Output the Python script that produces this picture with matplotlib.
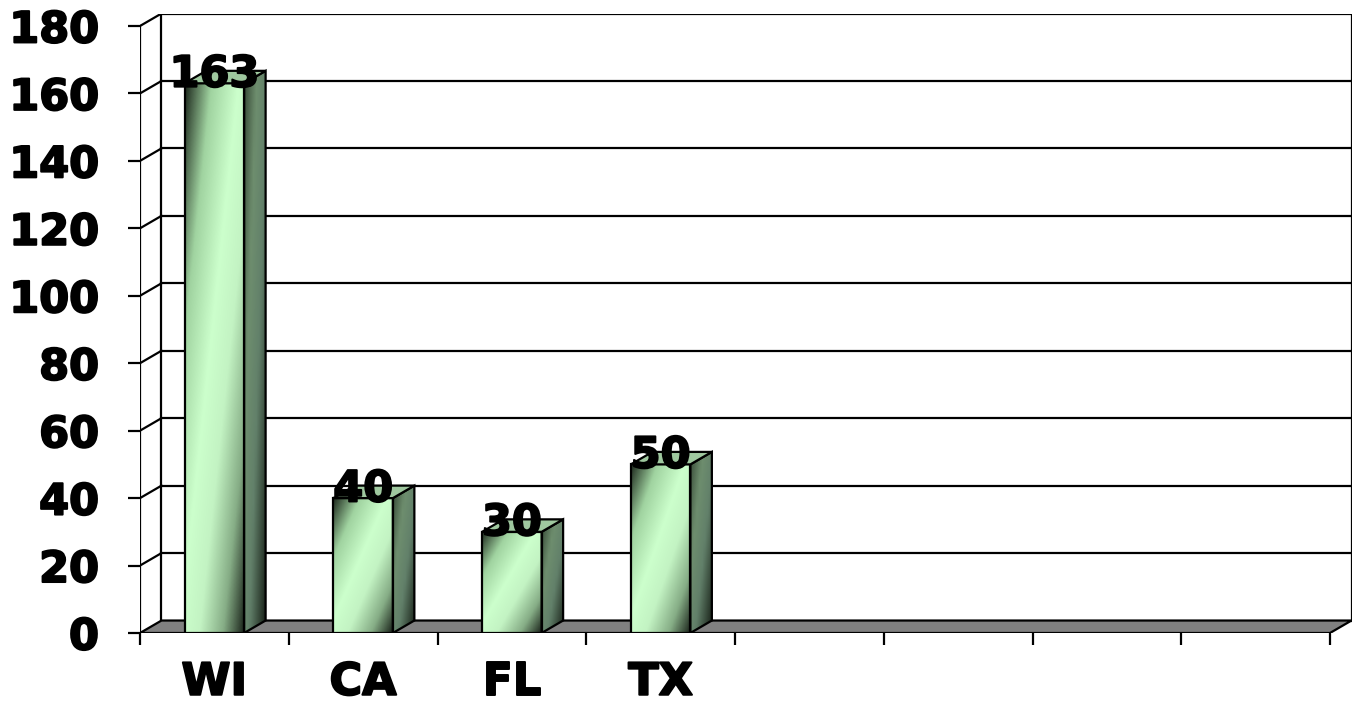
import numpy as np
import matplotlib.pyplot as plt
import matplotlib.patheffects as pe
from matplotlib.patches import Polygon
from matplotlib.colors import LinearSegmentedColormap

states = ['WI', 'CA', 'FL', 'TX']
counts = [163, 40, 30, 50]
n_slots = 8
y_ticks = list(range(0, 181, 20))

plt.rcParams['font.family'] = 'DejaVu Sans'
plt.rcParams['font.weight'] = 'bold'

# depth of the 3-D box in data units (x: categories, y: values)
DX, DY = 0.1445, 3.7
BAR_W = 0.40
LW = 1.6
heavy = [pe.withStroke(linewidth=1.4, foreground='black')]

front_cmap = LinearSegmentedColormap.from_list('front', [
    (0.0, '#1f2b1f'), (0.22, '#a0d3a0'), (0.45, '#ccffcc'),
    (0.62, '#c3f3c3'), (0.82, '#86ad86'), (1.0, '#1a231a')])
side_cmap = LinearSegmentedColormap.from_list('side', [
    (0.0, '#3a4e3a'), (0.3, '#6e8e6e'), (0.6, '#62806a'), (1.0, '#1c261c')])


def gradient(cmap, nx=48, ny=256):
    u = np.linspace(0, 1, nx)[None, :]
    v = np.linspace(0, 1, ny)[:, None]
    return cmap((u + v) / 2)


fig = plt.figure(figsize=(13.59, 7.03), dpi=100)
W, H = 1359, 703
ax = fig.add_axes([140 / W, 70 / H, (1351.5 - 140) / W, (633 - 13.5) / H])
for s in ax.spines.values():
    s.set_visible(False)

top = y_ticks[-1]
# back wall gridlines and side wall diagonals
for y in y_ticks[1:]:
    ax.plot([DX, n_slots + DX], [y + DY, y + DY], color='k', lw=LW, zorder=1)
    ax.plot([0, DX], [y, y + DY], color='k', lw=LW, zorder=1)
ax.plot([0, 0], [0, top], color='k', lw=LW, zorder=1)
ax.plot([DX, DX], [DY, top + DY], color='k', lw=LW, zorder=1)
ax.plot([n_slots + DX] * 2, [DY, top + DY], color='k', lw=LW, zorder=1)

# floor
floor = Polygon([(0, 0), (n_slots, 0), (n_slots + DX, DY), (DX, DY)],
                closed=True, facecolor='#808080', edgecolor='k', lw=LW, zorder=2)
ax.add_patch(floor)

# 3-D bars
for i, v in enumerate(counts):
    x0 = i + 0.5 - BAR_W / 2
    x1 = x0 + BAR_W
    ax.imshow(gradient(front_cmap), extent=(x0, x1, 0, v), origin='upper',
              aspect='auto', interpolation='bilinear', zorder=3)
    ax.add_patch(Polygon([(x0, 0), (x1, 0), (x1, v), (x0, v)], closed=True,
                         fill=False, edgecolor='k', lw=LW, zorder=4))

    side = Polygon([(x1, 0), (x1 + DX, DY), (x1 + DX, v + DY), (x1, v)],
                   closed=True, fill=False, edgecolor='k', lw=LW, zorder=4)
    im = ax.imshow(gradient(side_cmap, nx=8), extent=(x1, x1 + DX, 0, v + DY),
                   origin='upper', aspect='auto', interpolation='bilinear', zorder=3)
    ax.add_patch(side)
    im.set_clip_path(side)

    ax.add_patch(Polygon([(x0, v), (x1, v), (x1 + DX, v + DY), (x0 + DX, v + DY)],
                         closed=True, facecolor='#9fc89f', edgecolor='k',
                         lw=LW, zorder=4))
    ax.text(i + 0.5, v - 1.0, str(v), ha='center', va='baseline',
            fontsize=31, fontweight='bold', zorder=10, path_effects=heavy)

ax.set_xlim(0, n_slots + DX)
ax.set_ylim(0, top + DY)

ax.set_yticks(y_ticks)
ax.set_yticklabels([str(t) for t in y_ticks], path_effects=heavy)
ax.tick_params(axis='y', length=8.6, width=LW, direction='out', pad=21,
               labelsize=31)

ax.set_xticks(range(n_slots + 1))
ax.set_xticklabels([''] * (n_slots + 1))
ax.set_xticks([i + 0.5 for i in range(len(states))], states, minor=True)
for lbl in ax.get_xticklabels(minor=True):
    lbl.set_path_effects(heavy)
ax.tick_params(axis='x', which='major', length=8.6, width=LW, direction='out')
ax.tick_params(axis='x', which='minor', length=0, pad=20, labelsize=32)

fig.savefig('out.png', dpi=100)
